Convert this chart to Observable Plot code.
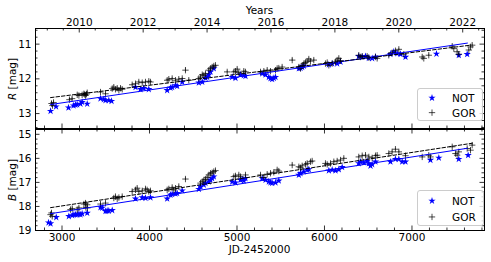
<!DOCTYPE html>
<html><head><meta charset="utf-8">
<script src="https://cdn.jsdelivr.net/npm/d3@7"></script>
<script src="https://cdn.jsdelivr.net/npm/@observablehq/plot@0.6"></script>
<style>
body{margin:0;background:#fff;}
#wrap{position:relative;width:491px;height:262px;font-family:"DejaVu Sans",sans-serif;}
#wrap svg{position:absolute;left:0;}
</style></head><body><div id="wrap"></div>
<script>
// ---------- data (JD-2452000, magnitudes) ----------
const notR_jd = [2869,2932,3074,3131,3154,3173,3211,3230,3288,3440,3478,3497,3535,3566,3840,3897,3935,3992,4202,4240,4259,4297,4316,4374,4564,4603,4640,4659,4678,4697,4735,4945,4983,5040,5078,5097,5288,5326,5364,5383,5402,5421,5440,5707,5726,5745,5764,6050,6088,6145,6183,6392,6431,6469,6507,6545,6583,6754,6792,6831,6869,6926,7280,7535,7631];
const notR_mag = [12.93,12.80,12.83,12.77,12.75,12.74,12.72,12.67,12.72,12.57,12.59,12.62,12.62,12.64,12.24,12.30,12.27,12.30,12.33,12.26,12.24,12.19,12.21,12.09,12.11,12.09,11.98,11.95,11.88,11.80,11.70,11.95,11.98,11.88,11.90,11.92,11.85,11.88,11.95,11.99,12.01,11.98,11.95,11.70,11.69,11.66,11.63,11.59,11.56,11.56,11.51,11.35,11.37,11.35,11.40,11.41,11.37,11.29,11.22,11.27,11.29,11.37,11.28,11.32,11.29];

const gorR_jd = [2880,2891,2903,3085,3115,3174,3193,3230,3250,3260,3269,3280,3288,3440,3497,3574,3592,3611,3631,3650,3669,3688,3802,3840,3878,3917,3954,3992,4011,4202,4221,4259,4297,4335,4374,4411,4449,4564,4583,4603,4621,4640,4678,4697,4716,4735,4754,4888,4964,4983,5002,5021,5078,5097,5269,5307,5345,5383,5440,5459,5478,5516,5631,5707,5726,5745,5764,5783,5802,5821,5840,5878,6011,6031,6050,6088,6126,6145,6164,6183,6392,6411,6431,6488,6507,6583,6602,6735,6773,6811,6850,6907,7117,7135,7192,7460,7478,7516,7535,7650,7669,7688];
const gorR_mag = [12.71,12.77,12.68,12.60,12.57,12.46,12.48,12.46,12.43,12.45,12.48,12.44,12.40,12.38,12.43,12.28,12.24,12.30,12.27,12.33,12.27,12.30,12.17,12.14,12.09,12.11,12.09,12.07,12.09,12.04,12.01,11.99,12.04,12.01,11.99,11.75,12.04,11.99,11.95,11.88,11.90,11.85,11.75,11.70,11.66,11.63,11.61,11.80,11.80,11.78,11.72,11.82,11.78,11.80,11.80,11.78,11.75,11.78,11.75,11.70,11.69,11.66,11.46,11.66,11.70,11.61,11.56,11.53,11.49,11.43,11.49,11.46,11.56,11.53,11.61,11.56,11.51,11.46,11.41,11.48,11.32,11.37,11.35,11.35,11.39,11.37,11.41,11.32,11.25,11.19,11.15,11.29,11.37,11.41,11.32,11.06,11.13,11.22,11.29,11.17,11.08,11.03];
const gorR_err = [0.06,0.06,0.05,0.04,0.04,0.04,0.04,0.04,0.04,0.04,0.04,0.04,0.04,0.03,0.03,0.04,0.04,0.04,0.04,0.04,0.04,0.04,0.03,0.03,0.03,0.03,0.03,0.03,0.03,0.03,0.03,0.03,0.03,0.03,0.03,0.06,0.03,0.03,0.03,0.03,0.03,0.03,0.03,0.03,0.03,0.03,0.03,0.03,0.03,0.03,0.03,0.03,0.03,0.03,0.03,0.03,0.03,0.03,0.03,0.03,0.03,0.03,0.04,0.03,0.03,0.03,0.03,0.03,0.03,0.03,0.03,0.03,0.03,0.03,0.03,0.03,0.03,0.03,0.03,0.03,0.03,0.03,0.03,0.03,0.03,0.03,0.03,0.03,0.03,0.03,0.03,0.03,0.03,0.03,0.03,0.03,0.03,0.03,0.03,0.03,0.03,0.03];

const notB_jd = [2846,2869,2934,3078,3117,3136,3154,3174,3193,3211,3230,3288,3440,3459,3497,3516,3535,3574,3840,3917,3954,4011,4202,4240,4259,4297,4316,4374,4564,4583,4621,4640,4678,4697,4716,4735,4945,4983,5040,5059,5078,5097,5288,5326,5364,5383,5402,5440,5478,5707,5726,5764,5802,5821,6050,6088,6126,6164,6202,6392,6411,6450,6488,6507,6526,6545,6583,6754,6811,6850,6888,6926,7211,7307,7535,7642];
const notB_mag = [18.67,18.71,18.45,18.41,18.37,18.34,18.34,18.34,18.31,18.34,18.30,18.27,18.04,18.06,18.20,18.18,18.18,18.16,17.68,17.63,17.65,17.63,17.68,17.52,17.49,17.47,17.45,17.34,17.28,17.17,17.10,17.03,16.97,16.90,16.83,16.76,16.97,17.01,16.90,16.87,16.93,16.83,16.83,16.90,16.97,17.01,17.03,17.01,16.93,16.69,16.62,16.55,16.48,16.46,16.51,16.48,16.51,16.46,16.37,16.21,16.14,16.17,16.11,16.21,16.31,16.25,16.14,16.14,16.03,16.03,16.14,16.14,16.07,15.98,16.03,15.87];

const gorB_jd = [2869,2880,2888,3097,3117,3174,3193,3250,3269,3288,3272,3290,3440,3497,3592,3611,3631,3650,3688,3802,3840,3859,3878,3917,3954,3973,3992,4011,4202,4221,4259,4278,4297,4335,4411,4583,4603,4621,4640,4659,4678,4697,4716,4735,4754,4964,4983,5021,5040,5097,5269,5307,5345,5383,5421,5459,5478,5631,5707,5726,5745,5783,5802,5840,5859,6011,6031,6069,6107,6145,6183,6221,6392,6431,6469,6507,6545,6583,6602,6735,6773,6811,6850,6926,7117,7192,7211,7460,7497,7516,7535,7631,7669,7688];
const gorB_mag = [18.34,18.27,18.41,18.13,18.09,18.13,18.06,17.90,17.86,17.93,18.04,18.06,17.90,17.86,17.65,17.59,17.68,17.63,17.59,17.38,17.31,17.24,17.38,17.35,17.27,17.31,17.38,17.35,17.31,17.27,17.21,17.31,17.24,17.17,16.86,17.03,16.97,16.90,16.87,16.79,16.69,16.62,16.60,16.55,16.51,16.76,16.73,16.69,16.76,16.69,16.69,16.80,16.66,16.62,16.58,16.48,16.53,16.28,16.35,16.39,16.31,16.25,16.21,16.14,16.11,16.21,16.25,16.21,16.14,16.11,16.07,16.00,15.94,15.89,15.87,15.94,15.98,15.89,15.87,15.80,15.73,15.62,15.73,15.89,15.94,15.87,15.94,15.52,15.80,15.87,15.73,15.59,15.66,15.45];
const gorB_err = [0.08,0.08,0.08,0.06,0.06,0.06,0.06,0.06,0.06,0.06,0.06,0.06,0.05,0.05,0.05,0.05,0.05,0.05,0.05,0.05,0.05,0.05,0.05,0.05,0.05,0.05,0.05,0.05,0.05,0.05,0.05,0.05,0.05,0.05,0.06,0.04,0.04,0.04,0.04,0.04,0.04,0.04,0.04,0.04,0.04,0.04,0.04,0.04,0.04,0.04,0.04,0.04,0.04,0.04,0.04,0.04,0.04,0.04,0.04,0.04,0.04,0.04,0.04,0.04,0.04,0.04,0.04,0.04,0.04,0.04,0.04,0.04,0.04,0.04,0.04,0.04,0.04,0.04,0.04,0.04,0.04,0.04,0.04,0.04,0.04,0.04,0.04,0.04,0.04,0.04,0.04,0.04,0.04,0.04];

// linear fits (end points)
const fitR_not_jd = [2869, 7634], fitR_not_mag = [12.74, 10.97];
const fitR_gor_jd = [2869, 7669], fitR_gor_mag = [12.54, 11.03];
const fitB_not_jd = [2869, 7634], fitB_not_mag = [18.30, 15.58];
const fitB_gor_jd = [2869, 7691], fitB_gor_mag = [18.05, 15.37];

// axis tick labels
const jdMajor = [3000, 4000, 5000, 6000, 7000];
const yearMajor = [2010, 2012, 2014, 2016, 2018, 2020, 2022];
const rMajor = [11, 12, 13];
const bMajor = [15, 16, 17, 18, 19];

// ---------- layout ----------
const W = 491, ML = 35, MR = 7;
const xDomain = [2697, 7829];
const jdOfYear = y => (y - 2000) * 365.25 - 455.5;
const inX = v => v >= xDomain[0] && v <= xDomain[1];
const r1 = v => Math.round(v * 10) / 10;

const jdMinor = d3.range(2800, 7830, 200).filter(v => v % 1000 !== 0 && inX(v));
const yearMajorJD = yearMajor.map(jdOfYear);
const yearMinorJD = d3.range(2008.5, 2023.01, 0.5).filter(y => !yearMajor.includes(y)).map(jdOfYear).filter(inX);

const innerW = W - ML - MR;
const MAJ = 4.5, MIN = 2.5;
const tickStyle = {stroke: "#000", strokeWidth: 0.8};

function xEdge(vals, len, innerH, where) {
  const o = {x: d => d, ...tickStyle};
  if (where === "bottom") o.insetTop = innerH - len; else o.insetBottom = innerH - len;
  return Plot.tickX(vals, o);
}
function yEdge(vals, len, where) {
  const o = {y: d => d, ...tickStyle};
  if (where === "left") o.insetRight = innerW - len; else o.insetLeft = innerW - len;
  return Plot.tickY(vals, o);
}

function panel(cfg) {
  const innerH = cfg.height - cfg.marginTop - cfg.marginBottom;
  const nNot = d3.range(cfg.notJd.length), nGor = d3.range(cfg.gorJd.length);
  const marks = [
    yEdge(cfg.yMajor, MAJ, "left"), yEdge(cfg.yMinor, MIN, "left"),
    yEdge(cfg.yMajor, MAJ, "right"), yEdge(cfg.yMinor, MIN, "right"),
    xEdge(jdMajor, MAJ, innerH, "bottom"), xEdge(jdMinor, MIN, innerH, "bottom"),
    Plot.axisY(cfg.yMajor, {anchor: "left", tickSize: 0, tickPadding: 4, label: null, tickFormat: d => String(d), fontSize: 10.5})
  ];
  if (cfg.years) {
    marks.push(xEdge(yearMajorJD, MAJ, innerH, "top"), xEdge(yearMinorJD, MIN, innerH, "top"));
    marks.push(Plot.axisX(yearMajorJD, {anchor: "top", tickSize: 0, tickPadding: 3, label: null,
      tickFormat: d => String(Math.round((d + 455.5) / 365.25 + 2000)), fontSize: 10.5}));
  } else {
    marks.push(xEdge(jdMajor, MAJ, innerH, "top"), xEdge(jdMinor, MIN, innerH, "top"));
  }
  if (cfg.jdLabels) {
    marks.push(Plot.axisX(jdMajor, {anchor: "bottom", tickSize: 0, tickPadding: 3, label: null, tickFormat: d => String(d), fontSize: 10.5}));
  }
  marks.push(
    Plot.dot(nNot, {x: i => cfg.notJd[i], y: i => cfg.notMag[i], symbol: "star", fill: "#0000ff", r: 2.3}),
    Plot.ruleX(nGor, {x: i => cfg.gorJd[i], y1: i => cfg.gorMag[i] - cfg.gorErr[i], y2: i => cfg.gorMag[i] + cfg.gorErr[i], stroke: "#000", strokeOpacity: 0.55, strokeWidth: 0.8}),
    Plot.dot(nGor, {x: i => cfg.gorJd[i], y: i => cfg.gorMag[i], symbol: "plus", stroke: "#000", strokeOpacity: 0.7, strokeWidth: 1, r: 2.2}),
    Plot.line([0, 1], {x: i => cfg.fitNotJd[i], y: i => cfg.fitNotMag[i], stroke: "#0000ff", strokeWidth: 1}),
    Plot.line([0, 1], {x: i => cfg.fitGorJd[i], y: i => cfg.fitGorMag[i], stroke: "#000", strokeWidth: 1, strokeDasharray: "3.5,2"}),
    Plot.frame({stroke: "#000", strokeWidth: 1})
  );
  const svg = Plot.plot({
    width: W, height: cfg.height,
    marginLeft: ML, marginRight: MR, marginTop: cfg.marginTop, marginBottom: cfg.marginBottom,
    style: {fontFamily: "DejaVu Sans", fontSize: "10.5px", background: "transparent", color: "#000", overflow: "visible"},
    x: {domain: xDomain, axis: null},
    y: {domain: cfg.yDomain, reverse: true, axis: null},
    marks
  });
  svg.style.top = cfg.top + "px";
  return svg;
}

const wrap = document.getElementById("wrap");
wrap.appendChild(panel({
  top: 0, height: 129, marginTop: 28, marginBottom: 1,
  yDomain: [10.55, 13.43], yMajor: rMajor,
  yMinor: d3.range(10.6, 13.41, 0.2).map(r1).filter(v => !Number.isInteger(v)),
  notJd: notR_jd, notMag: notR_mag, gorJd: gorR_jd, gorMag: gorR_mag, gorErr: gorR_err,
  fitNotJd: fitR_not_jd, fitNotMag: fitR_not_mag, fitGorJd: fitR_gor_jd, fitGorMag: fitR_gor_mag,
  years: true, jdLabels: false
}));
wrap.appendChild(panel({
  top: 129, height: 133, marginTop: 0, marginBottom: 32,
  yDomain: [14.8, 19.0], yMajor: bMajor,
  yMinor: d3.range(14.8, 19.01, 0.2).map(r1).filter(v => !Number.isInteger(v)),
  notJd: notB_jd, notMag: notB_mag, gorJd: gorB_jd, gorMag: gorB_mag, gorErr: gorB_err,
  fitNotJd: fitB_not_jd, fitNotMag: fitB_not_mag, fitGorJd: fitB_gor_jd, fitGorMag: fitB_gor_mag,
  years: false, jdLabels: true
}));

// ---------- overlay: axis titles and legends ----------
const ov = d3.select(wrap).append("svg").attr("width", W).attr("height", 262)
  .style("top", "0px").style("pointer-events", "none")
  .attr("font-family", "DejaVu Sans").attr("font-size", 10.5).attr("fill", "#000");

ov.append("text").attr("x", 259.5).attr("y", 13.5).attr("text-anchor", "middle").text("Years");
ov.append("text").attr("x", 259.5).attr("y", 253).attr("text-anchor", "middle").text("JD-2452000");

function yTitle(letter, cy) {
  const t = ov.append("text").attr("transform", `translate(16,${cy}) rotate(-90)`).attr("text-anchor", "middle");
  t.append("tspan").attr("font-style", "italic").text(letter);
  t.append("tspan").text(" [mag]");
}
yTitle("R", 79);
yTitle("B", 180);

function legend(x, y, w, h) {
  const g = ov.append("g");
  g.append("rect").attr("x", x + 0.5).attr("y", y + 0.5).attr("width", w).attr("height", h).attr("rx", 2.5)
    .attr("fill", "#fff").attr("fill-opacity", 0.8).attr("stroke", "#cccccc").attr("stroke-width", 1);
  const y1 = y + h * 0.31, y2 = y + h * 0.77;
  g.append("path").attr("d", d3.symbol(d3.symbolStar, Math.PI * 2.3 * 2.3)()).attr("transform", `translate(${x + 15},${y1})`).attr("fill", "#0000ff");
  g.append("path").attr("d", d3.symbol(d3.symbolPlus, Math.PI * 2.2 * 2.2)()).attr("transform", `translate(${x + 15},${y2})`)
    .attr("fill", "none").attr("stroke", "#000").attr("stroke-opacity", 0.7);
  g.append("text").attr("x", x + 35).attr("y", y1 + 4).text("NOT");
  g.append("text").attr("x", x + 35).attr("y", y2 + 4).text("GOR");
}
legend(417, 88, 65, 32);
legend(417, 190, 66, 35);
</script></body></html>
